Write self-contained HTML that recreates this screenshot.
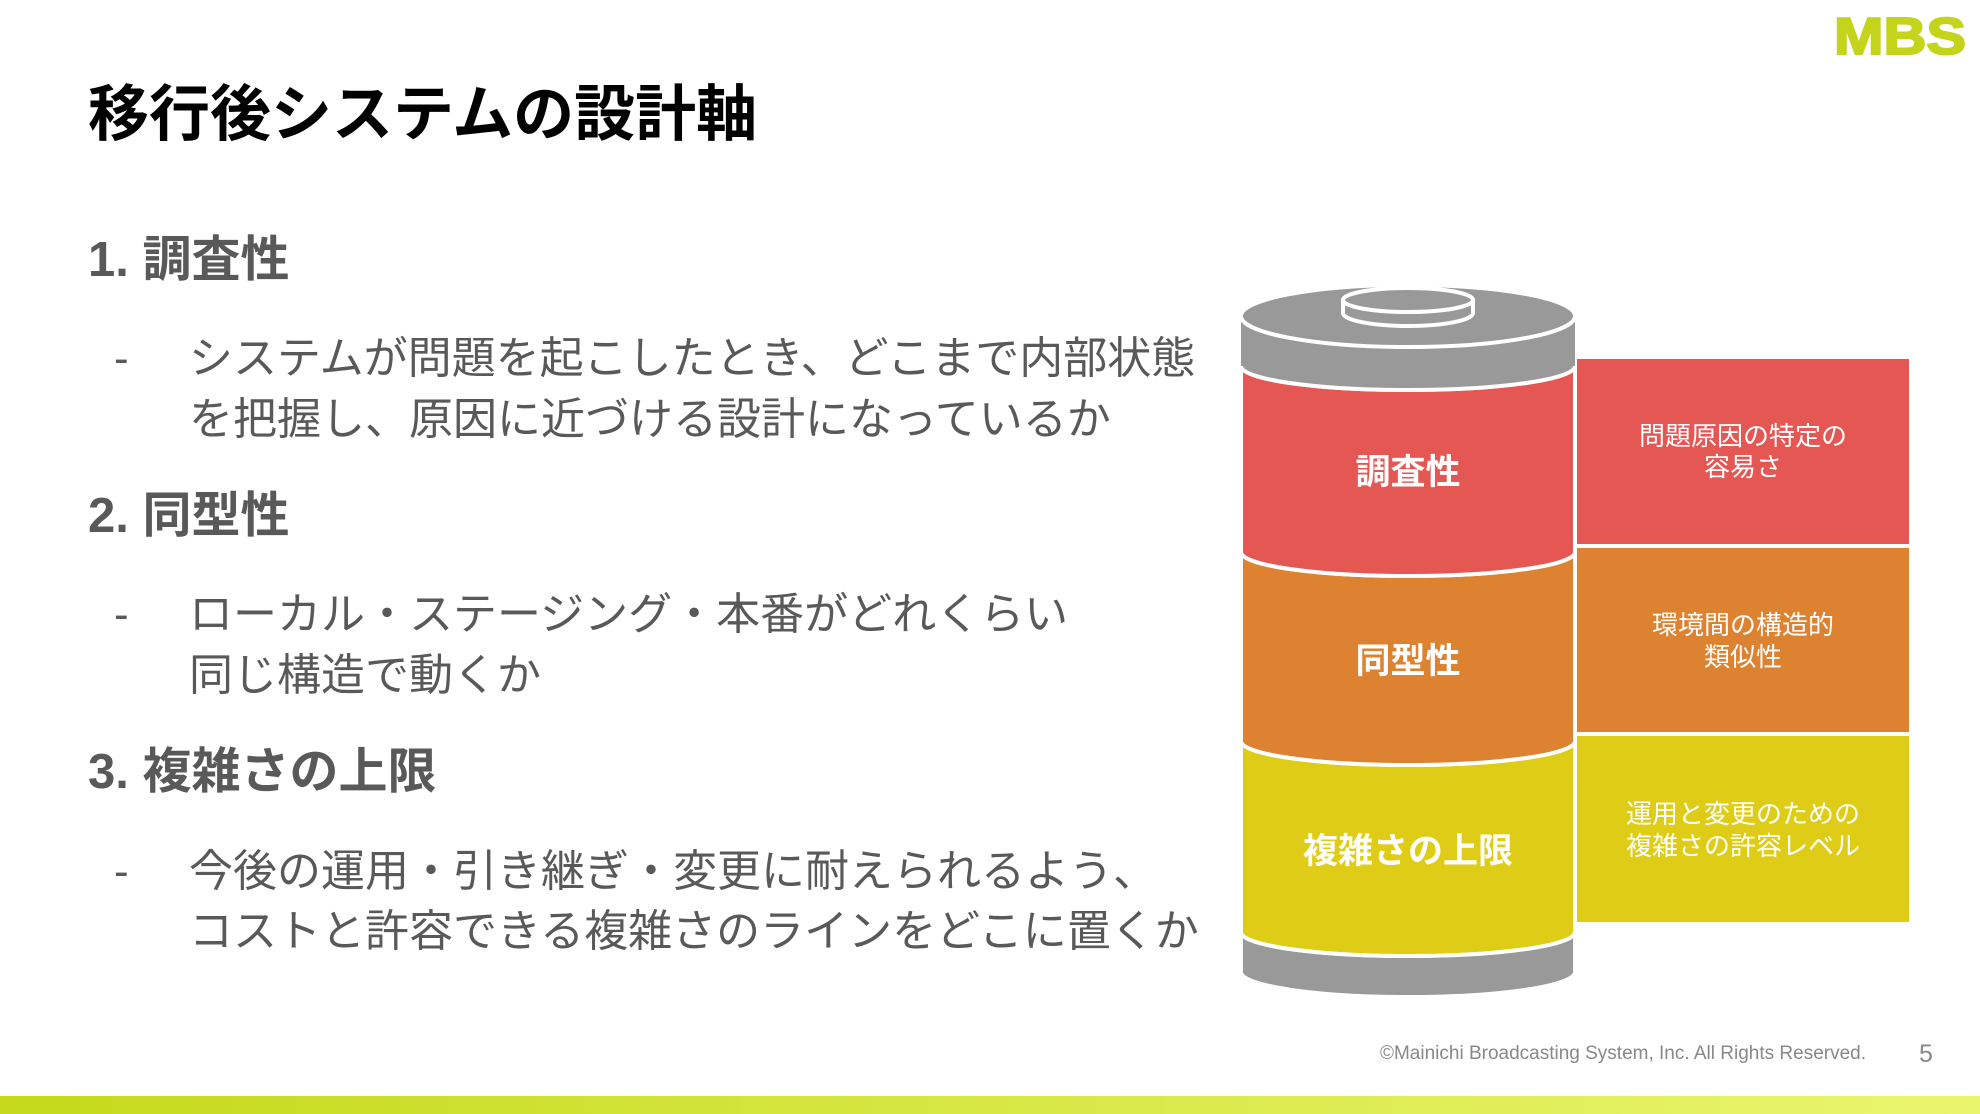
<!DOCTYPE html>
<html><head><meta charset="utf-8"><style>
body{margin:0;width:1980px;height:1114px;background:#fff;position:relative;overflow:hidden;font-family:"Liberation Sans","Noto Sans CJK JP",sans-serif}
.t{position:absolute;white-space:nowrap;line-height:1}
.h{font-weight:bold;color:#595959;font-size:49px}
.b{color:#595959;font-size:44px}
</style></head><body>
<div class="t" style="left:88px;top:84px;font-size:61px;font-weight:bold;color:#000">移行後システムの設計軸</div>
<div class="t h" style="left:88px;top:236px">1. 調査性</div>
<div class="t b" style="left:114px;top:337px">-</div>
<div class="t b" style="left:189px;top:337px">システムが問題を起こしたとき、どこまで内部状態</div>
<div class="t b" style="left:189px;top:398px">を把握し、原因に近づける設計になっているか</div>
<div class="t h" style="left:88px;top:492px">2. 同型性</div>
<div class="t b" style="left:114px;top:593px">-</div>
<div class="t b" style="left:189px;top:593px">ローカル・ステージング・本番がどれくらい</div>
<div class="t b" style="left:189px;top:654px">同じ構造で動くか</div>
<div class="t h" style="left:88px;top:748px">3. 複雑さの上限</div>
<div class="t b" style="left:114px;top:850px">-</div>
<div class="t b" style="left:189px;top:850px">今後の運用・引き継ぎ・変更に耐えられるよう、</div>
<div class="t b" style="left:189px;top:910px">コストと許容できる複雑さのラインをどこに置くか</div>

<svg width="1980" height="1114" style="position:absolute;left:0;top:0">
<g stroke="#fff" stroke-width="4">
<path d="M1241,932 A167,24 0 0 0 1575,932 L1575,972 A167,25 0 0 1 1241,972 Z" fill="#999"/>
<path d="M1241,741 A167,24 0 0 0 1575,741 L1575,932 A167,24 0 0 1 1241,932 Z" fill="#dfcc16"/>
<path d="M1241,552 A167,24 0 0 0 1575,552 L1575,741 A167,24 0 0 1 1241,741 Z" fill="#dc8230"/>
<path d="M1241,366 A167,24 0 0 0 1575,366 L1575,552 A167,24 0 0 1 1241,552 Z" fill="#e45753"/>
<path d="M1241,316 L1241,366 A167,24 0 0 0 1575,366 L1575,316 Z" fill="#999" stroke="none"/>
<path d="M1241,366 A167,24 0 0 0 1575,366" fill="none"/>
<ellipse cx="1408" cy="316" rx="167" ry="31" fill="#999"/>
<path d="M1343,300 L1343,313 A65,13 0 0 0 1473,313 L1473,300" fill="#999"/>
<ellipse cx="1408" cy="300" rx="65" ry="12" fill="#999"/>
</g>
<rect x="1577" y="359" width="332" height="185" fill="#e45753"/>
<rect x="1577" y="548" width="332" height="184" fill="#dc8230"/>
<rect x="1577" y="736" width="332" height="186" fill="#dfcc16"/>
<g fill="#fff" font-family="Liberation Sans,Noto Sans CJK JP,sans-serif" text-anchor="middle">
<g font-size="35" font-weight="bold">
<text x="1408" y="484">調査性</text>
<text x="1408" y="673">同型性</text>
<text x="1408" y="863">複雑さの上限</text>
</g>
<g font-size="26">
<text x="1743" y="445">問題原因の特定の</text>
<text x="1743" y="476">容易さ</text>
<text x="1743" y="634">環境間の構造的</text>
<text x="1743" y="666">類似性</text>
<text x="1743" y="823">運用と変更のための</text>
<text x="1743" y="855">複雑さの許容レベル</text>
</g>
</g>
<text x="1900" y="54" font-family="Liberation Sans,sans-serif" font-size="52" font-weight="bold" fill="#c3d41a" text-anchor="middle" textLength="132" lengthAdjust="spacingAndGlyphs" stroke="#c3d41a" stroke-width="2">MBS</text>
<text x="1866" y="1059" font-family="Liberation Sans,sans-serif" font-size="19" fill="#888" text-anchor="end">©Mainichi Broadcasting System, Inc. All Rights Reserved.</text>
<text x="1926" y="1062" font-family="Liberation Sans,sans-serif" font-size="25" fill="#888" text-anchor="middle">5</text>
<defs><linearGradient id="g" x1="0" x2="1"><stop offset="0" stop-color="#c5d91a"/><stop offset="1" stop-color="#eaf56e"/></linearGradient></defs>
<rect x="0" y="1096" width="1980" height="18" fill="url(#g)"/>
</svg>
</body></html>
